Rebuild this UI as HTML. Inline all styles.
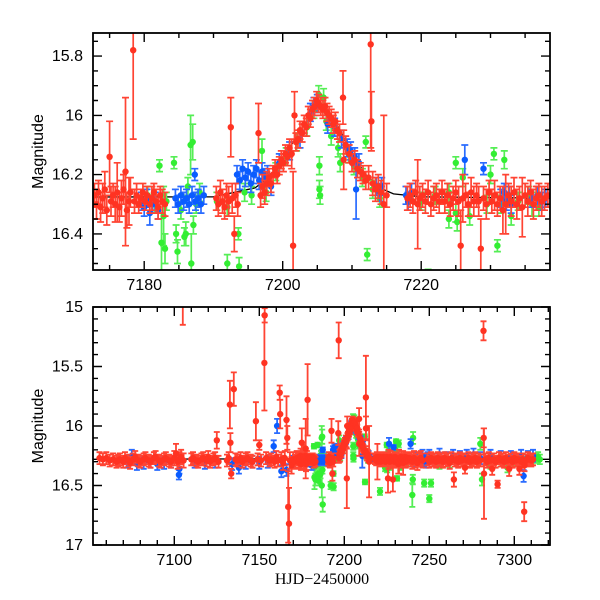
<!DOCTYPE html>
<html><head><meta charset="utf-8"><style>
html,body{margin:0;padding:0;background:#fff;}
svg{display:block;font-family:"Liberation Sans",sans-serif;}
</style></head><body>
<svg id="chart" width="600" height="600" viewBox="0 0 600 600"></svg>
<script>
// ---- data: [HJD-2450000, magnitude, error] ----
const redPoints = [
[7056,16.27,.05],[7058,16.28,.05],[7060,16.27,.05],[7062,16.29,.05],[7064,16.28,.05],[7066,16.30,.05],[7067,16.29,.05],[7068,16.28,.05],[7070,16.30,.05],[7071,16.27,.05],[7073,16.29,.05],[7074,16.31,.05],[7076,16.28,.05],[7077,16.26,.05],[7079,16.29,.05],[7080,16.30,.05],[7082,16.28,.05],[7083,16.27,.05],[7085,16.29,.05],[7086,16.30,.05],[7088,16.27,.05],[7089,16.26,.05],[7091,16.29,.05],[7092,16.30,.05],[7094,16.28,.05],[7095,16.27,.05],[7097,16.29,.05],[7098,16.30,.05],[7100,16.27,.06],[7101,16.23,.08],[7102,16.30,.06],[7103,16.28,.06],[7104,16.26,.06],[7105,14.95,.2],[7105.5,16.29,.06],
[7110,16.28,.05],[7111,16.27,.05],[7113,16.29,.05],[7114,16.30,.05],[7116,16.28,.05],[7117,16.27,.05],[7119,16.29,.05],[7120,16.26,.05],[7121,16.30,.05],[7123,16.28,.05],[7124,16.27,.05],[7125,16.12,.07],[7126,16.30,.05],
[7131,16.29,.05],[7132,16.27,.05],[7132.7,15.82,.2],[7133,16.14,.08],[7133.5,16.40,.04],[7135,15.69,.14],[7136,16.28,.05],[7137,16.29,.05],[7139,16.27,.05],[7140,16.30,.05],[7142,16.28,.05],[7143,16.27,.05],[7145,16.29,.05],[7146,16.30,.05],[7148,15.96,.16],[7149,16.28,.05],[7150,16.16,.04],[7151,16.29,.05],[7153,15.47,.4],[7153.2,15.07,.06],[7154,16.27,.05],[7156,16.29,.05],[7157,16.28,.05],[7159,16.30,.05],[7160,16.26,.05],[7161,16.29,.05],[7162,15.72,.06],[7162.3,15.9,.12],[7163,16.28,.06],[7164,16.31,.06],[7165,16.27,.06],[7166,15.95,.2],[7166.5,16.1,.1],[7167,16.68,.3],[7167.5,16.82,.3],[7168,16.29,.07],[7169,16.33,.07],[7170,16.28,.06],[7171,16.30,.06],[7172,16.27,.06],
[7172.8,16.27,.04],[7173.1,16.30,.05],[7173.4,16.26,.04],[7173.7,16.31,.05],[7174.0,16.28,.05],[7174.3,16.25,.06],[7174.6,16.32,.05],[7175.0,16.14,.12],[7175.2,16.29,.05],[7175.5,16.27,.04],[7175.8,16.30,.06],[7176.1,16.26,.1],[7176.4,16.31,.05],[7176.7,16.28,.06],[7177.0,16.25,.05],[7177.3,16.19,.25],[7177.5,16.32,.06],[7177.8,16.29,.08],[7178.0,16.26,.05],[7178.4,15.78,.3],[7178.6,16.29,.04],[7178.9,16.27,.04],[7179.2,16.30,.03],[7179.5,16.28,.03],[7179.8,16.26,.03],[7180.1,16.29,.03],[7180.4,16.27,.03],[7180.8,16.30,.03],[7181.1,16.28,.04],[7181.4,16.26,.03],[7181.7,16.29,.04],[7182.0,16.31,.04],[7182.3,16.27,.03],[7182.6,16.29,.04],[7183.0,16.30,.04],
[7190.4,16.28,.04],[7190.7,16.30,.04],[7191.0,16.26,.04],[7191.3,16.29,.04],[7191.6,16.31,.04],[7191.9,16.27,.04],[7192.2,16.29,.05],[7192.5,16.04,.1],[7192.7,16.28,.05],[7193.0,16.40,.06],[7193.2,16.27,.04],[7193.5,16.30,.04],
[7196.5,16.06,.1],[7196.7,15.28,.15],[7196.8,16.27,.04],[7197.1,16.24,.04],[7197.4,16.26,.04],[7197.7,16.23,.04],[7198.0,16.21,.03],[7198.3,16.23,.03],[7198.6,16.20,.03],[7198.9,16.18,.03],[7199.2,16.20,.03],[7199.5,16.17,.03],[7199.8,16.15,.03],[7200.1,16.16,.03],[7200.4,16.13,.03],[7200.7,16.14,.03],[7201.0,16.11,.03],[7201.3,16.13,.05],[7201.5,16.44,.25],[7201.7,16.00,.08],[7201.9,16.09,.03],[7202.2,16.08,.03],[7202.5,16.05,.03],[7202.8,16.06,.03],[7203.1,16.03,.03],[7203.4,16.04,.03],[7203.7,16.00,.03],[7204.0,16.01,.03],[7204.3,15.98,.03],[7204.6,15.97,.03],[7204.9,15.95,.03],[7205.2,15.96,.03],[7205.5,15.97,.03],[7205.8,15.98,.03],[7206.1,15.97,.03],[7206.4,15.99,.03],[7206.7,16.00,.03],[7207.0,16.01,.03],[7207.3,16.03,.03],[7207.6,16.02,.03],[7207.9,16.05,.03],[7208.2,16.06,.03],[7208.7,15.94,.09],[7208.8,16.15,.1],[7209.1,16.10,.03],[7209.6,16.13,.03],[7210.0,16.16,.03],[7210.4,16.15,.03],[7210.8,16.18,.03],[7211.2,16.19,.03],[7211.6,16.20,.03],[7212.0,16.22,.03],[7212.4,16.21,.04],[7212.7,15.76,.35],[7212.8,16.02,.1],[7213.0,16.23,.04],[7213.4,16.25,.04],[7213.8,16.24,.04],[7214.2,16.26,.04],[7214.6,16.30,.3],[7215.0,16.27,.04],
[7218.0,16.28,.04],[7218.4,16.27,.04],[7218.8,16.29,.04],[7219.2,16.26,.04],[7219.5,16.30,.15],[7219.8,16.28,.04],[7220.2,16.27,.04],[7220.6,16.29,.04],[7221.0,16.26,.04],[7221.4,16.30,.04],[7221.8,16.28,.04],[7222.2,16.27,.04],[7222.6,16.29,.04],[7223.0,16.26,.04],[7223.4,16.29,.04],[7223.8,16.27,.04],[7224.2,16.30,.04],[7224.6,16.28,.04],[7225.0,16.26,.04],[7225.4,16.29,.05],[7225.7,16.44,.12],[7226.0,16.28,.08],[7226.4,16.27,.04],[7226.8,16.30,.04],[7227.2,16.26,.05],[7227.6,16.29,.05],[7228.0,16.27,.04],[7228.3,16.29,.05],[7228.6,16.45,.1],[7229.0,16.28,.04],[7229.4,16.30,.05],[7229.8,16.26,.04],[7230.2,16.29,.04],[7230.6,16.27,.05],[7231.0,16.30,.04],[7231.4,16.28,.04],[7231.8,16.32,.08],[7232.2,16.30,.1],[7232.6,16.27,.04],[7233.0,16.29,.05],[7233.4,16.26,.05],[7233.8,16.30,.05],[7234.2,16.28,.04],[7234.6,16.31,.1],[7235.0,16.27,.04],[7235.4,16.29,.05],[7235.8,16.26,.04],[7236.2,16.30,.05],[7236.6,16.28,.04],[7237.0,16.27,.04],[7237.4,16.29,.05],[7237.8,16.28,.04],[7238.3,16.27,.04],
[7239,16.28,.06],[7240,16.30,.06],[7241,16.27,.06],[7242,16.29,.06],[7243,16.31,.06],[7244,16.28,.06],[7245,16.27,.06],[7246,16.29,.06],[7249,16.28,.05],[7250,16.30,.05],[7251,16.27,.05],[7252,16.29,.05],[7253,16.28,.05],[7254,16.30,.05],[7255,16.27,.05],[7256,16.29,.05],[7257,16.28,.05],[7258,16.30,.05],[7259,16.27,.05],[7260,16.29,.05],[7261,16.28,.05],[7262,16.31,.05],[7263,16.27,.05],[7264.5,16.45,.06],[7265,16.29,.05],[7266,16.28,.05],[7267,16.30,.05],[7268,16.27,.05],[7269,16.29,.05],[7270,16.28,.05],[7271,16.35,.05],[7272,16.29,.05],[7273,16.27,.05],[7274,16.30,.05],[7275,16.28,.05],[7276,16.29,.05],[7277,16.27,.05],[7278,16.30,.05],[7279,16.28,.05],[7280,16.29,.05],[7281.9,15.2,.08],[7282,16.1,.08],[7282.2,16.4,.38],[7283,16.28,.05],[7284,16.30,.05],[7285,16.27,.05],[7286,16.29,.05],[7287,16.36,.05],[7288,16.28,.05],[7289,16.30,.05],[7290.2,16.49,.03],[7291,16.27,.05],[7292,16.29,.05],[7293,16.28,.05],[7294,16.30,.05],[7295,16.27,.05],[7296,16.29,.05],[7297,16.36,.06],[7298,16.28,.05],[7299,16.30,.05],[7300,16.27,.05],[7301,16.29,.05],[7302,16.28,.05],[7303,16.36,.05],[7304,16.30,.05],[7305,16.28,.05],[7305.8,16.72,.08],[7306,16.33,.05],[7307,16.29,.05],[7308,16.27,.05],[7309,16.28,.05],[7310,16.29,.05],[7311,16.28,.05]
];
const bluePoints = [
[7072,16.30,.05],[7075,16.25,.05],[7078,16.32,.05],[7082,16.31,.05],[7086,16.30,.05],[7090,16.32,.05],[7094,16.31,.05],[7098,16.30,.05],[7102.7,16.41,.04],[7103,16.36,.04],[7112,16.30,.05],[7118,16.31,.05],[7124,16.30,.05],[7134,16.32,.05],[7138,16.35,.05],[7142,16.31,.05],[7146,16.30,.05],[7150,16.31,.05],[7155,16.30,.05],[7158.5,16.17,.05],[7160.5,16.00,.06],[7163,16.38,.05],[7166,16.37,.05],[7170,16.30,.05],
[7179.6,16.29,.03],[7180.0,16.31,.03],[7180.4,16.28,.03],[7180.8,16.33,.04],[7181.2,16.30,.03],[7181.6,16.29,.03],[7182.0,16.32,.03],[7184.5,16.28,.03],[7184.9,16.30,.03],[7185.3,16.27,.03],[7185.7,16.29,.03],[7186.1,16.28,.03],[7186.5,16.30,.03],[7186.9,16.27,.03],[7187.3,16.20,.02],[7187.4,16.29,.03],[7187.8,16.28,.03],[7188.2,16.30,.03],[7188.6,16.27,.03],[7193.4,16.20,.03],[7193.8,16.22,.03],[7194.2,16.18,.03],[7194.6,16.21,.03],[7195.0,16.19,.03],[7195.4,16.23,.03],[7195.8,16.20,.03],[7196.2,16.18,.03],[7196.6,16.22,.03],[7197.0,16.19,.03],[7197.4,16.21,.03],[7197.8,16.20,.03],[7198.3,16.24,.03],[7199.5,16.16,.03],[7201.0,16.12,.03],[7202.5,16.08,.03],[7204.0,15.99,.03],[7204.5,15.97,.03],[7205.0,15.96,.03],[7206.5,16.03,.03],[7207.5,16.04,.03],[7208.5,16.08,.03],[7209.3,16.11,.03],[7209.8,16.12,.03],[7210.4,16.14,.03],[7210.6,16.25,.1],[7211.0,16.16,.03],[7213.5,16.24,.03],[7214.0,16.26,.03],[7214.3,16.24,.03],[7217.8,16.27,.03],[7218.1,16.29,.03],[7218.6,16.26,.03],[7226.3,16.15,.05],[7229.0,16.18,.02],[7231.5,16.28,.03],[7232.0,16.26,.03],[7232.3,16.29,.03],[7232.7,16.27,.03],[7233.0,16.30,.03],[7236.0,16.28,.03],[7236.8,16.27,.03],[7237.5,16.29,.03],[7238.0,16.28,.03],
[7239,16.15,.04],[7240,16.29,.05],[7243,16.27,.05],[7246,16.25,.05],[7247,16.29,.05],[7248,16.30,.05],[7249,16.27,.05],[7250,16.25,.05],[7253,16.28,.05],[7256,16.24,.05],[7260,16.27,.05],[7264,16.25,.05],[7268,16.26,.05],[7272,16.25,.05],[7276,16.24,.05],[7280,16.27,.05],[7286,16.25,.05],[7292,16.26,.05],[7298,16.26,.05],[7304,16.25,.05],[7305.5,16.42,.05],[7308,16.26,.05],[7311,16.25,.05]
];
const greenPoints = [
[7180.5,16.27,.03],[7181.5,16.30,.03],[7182.2,16.17,.02],[7182.5,16.43,.1],[7182.8,16.34,.1],[7183.0,16.45,.05],[7183.2,16.29,.03],[7184.3,16.16,.02],[7184.6,16.40,.03],[7184.8,16.46,.04],[7185.3,16.32,.03],[7185.8,16.41,.03],[7186.3,16.24,.03],[7186.7,16.10,.1],[7186.8,16.50,.1],[7187.1,16.37,.03],[7187.5,16.30,.03],[7188.0,16.26,.03],[7190.5,16.29,.03],[7192.0,16.31,.03],[7193.6,16.40,.02],[7193.7,16.51,.03],[7194.5,16.26,.03],[7195.5,16.27,.03],[7197.0,16.12,.04],[7197.6,16.26,.03],[7199.0,16.19,.03],[7200.5,16.14,.03],[7202.0,16.09,.03],[7203.5,16.04,.03],[7204.5,15.98,.03],[7205.2,15.93,.03],[7205.9,15.94,.03],[7205.3,16.17,.03],[7205.3,16.25,.03],[7205.4,16.27,.03],[7206.3,16.02,.03],[7207.0,16.07,.03],[7208.0,16.11,.03],[7208.3,16.16,.03],[7209.5,16.13,.03],[7210.3,16.17,.03],[7211.5,16.21,.03],[7212.0,16.09,.02],[7212.2,16.47,.02],[7213.0,16.25,.03],[7214.0,16.28,.03],[7220.0,16.29,.03],[7222.0,16.27,.03],[7224.0,16.26,.03],[7225.0,16.16,.02],[7225.0,16.33,.03],[7225.2,16.36,.03],[7226.0,16.21,.03],[7227.0,16.34,.03],[7229.5,16.30,.03],[7230.5,16.13,.02],[7231.0,16.44,.02],[7231.5,16.30,.03],[7232.0,16.15,.03],[7233.0,16.34,.03],[7234.0,16.29,.03],[7235.5,16.27,.03],[7237.0,16.31,.03],
[7186,16.40,.04],[7187,16.09,.06],[7187.3,16.66,.06],[7192,16.50,.03],[7221,16.55,.03],[7224,16.35,.03],[7230,16.20,.03],[7236,16.30,.04],[7240,16.58,.1],[7240.3,16.45,.04],[7240.5,16.10,.05],[7247,16.48,.03],[7250,16.61,.03],[7251,16.48,.03],[7256,16.32,.04],[7262,16.31,.04],[7270,16.30,.04],[7280,16.15,.05],[7281,16.45,.05],[7286,16.32,.04],[7292,16.30,.04],[7296,16.35,.04],[7300,16.30,.04],[7306,16.30,.04],[7310,16.28,.04],[7313,16.27,.04],[7314,16.26,.04],[7315,16.28,.04]
];
const modelT   = [7050,7190,7196,7198,7200,7202,7204,7205.5,7207,7208.5,7210,7212,7214,7216,7220,7240,7325];
const modelMag = [16.28,16.275,16.245,16.21,16.15,16.07,16.0,15.975,16.0,16.06,16.13,16.2,16.245,16.265,16.275,16.28,16.28];
const topXTicks = [7180,7200,7220];
const topYTicks = [15.8,16,16.2,16.4];
const botXTicks = [7100,7150,7200,7250,7300];
const botYTicks = [15,15.5,16,16.5,17];

const NS = "http://www.w3.org/2000/svg";
const svg = document.getElementById('chart');
function mk(tag, attrs, parent) {
  const e = document.createElementNS(NS, tag);
  for (const k in attrs) e.setAttribute(k, attrs[k]);
  (parent || svg).appendChild(e);
  return e;
}
const panels = [
  {id:'top', x0:93, x1:550, y0:33, y1:270, tmin:7172.6, tmax:7238.6, mmin:15.722, mmax:16.522,
   xMinor:5, yMinor:0.05, xTicks:topXTicks, yTicks:topYTicks, r:3.2, cap:3.5, sw:1.7},
  {id:'bottom', x0:93, x1:550, y0:307, y1:545, tmin:7052.2, tmax:7321, mmin:15, mmax:17,
   xMinor:10, yMinor:0.1, xTicks:botXTicks, yTicks:botYTicks, r:3.2, cap:3, sw:1.8}
];
const colors = {green:['#33ee33','#55ee55'], blue:['#0a5cff','#2a6cff'], red:['#ff3322','#ff4433']};

panels.forEach(p => {
  const sx = t => p.x0 + (t - p.tmin) / (p.tmax - p.tmin) * (p.x1 - p.x0);
  const sy = m => p.y0 + (m - p.mmin) / (p.mmax - p.mmin) * (p.y1 - p.y0);
  const g = mk('g', {});
  
  
  const cid = 'clip-' + p.id;
  const cp = mk('clipPath', {id: cid}, g);
  mk('rect', {x:p.x0, y:p.y0, width:p.x1-p.x0, height:p.y1-p.y0}, cp);
  const plot = mk('g', {'clip-path':'url(#'+cid+')'}, g);
  
  

  let d = '';
  modelT.forEach((t,i) => { d += (i ? 'L' : 'M') + sx(t).toFixed(1) + ',' + sy(modelMag[i]).toFixed(1); });
  const ml = mk('path', {d:d, fill:'none', stroke:'#000', 'stroke-width':1.3}, plot);
  
  

  [['green',greenPoints],['blue',bluePoints],['red',redPoints]].forEach(([name, pts]) => {
    const sg = mk('g', {}, plot);
    
    
    let bars = '';
    pts.forEach(([t,m,e]) => {
      if (t < p.tmin - 1 || t > p.tmax + 1) return;
      const x = sx(t), ya = sy(m - e), yb = sy(m + e);
      bars += 'M'+x.toFixed(1)+','+ya.toFixed(1)+'V'+yb.toFixed(1);
      bars += 'M'+(x-p.cap).toFixed(1)+','+ya.toFixed(1)+'h'+(2*p.cap);
      bars += 'M'+(x-p.cap).toFixed(1)+','+yb.toFixed(1)+'h'+(2*p.cap);
    });
    const eb = mk('path', {d:bars, fill:'none', stroke:colors[name][1], 'stroke-width':p.sw}, sg);
    
    
    pts.forEach(([t,m,e]) => {
      if (t < p.tmin - 1 || t > p.tmax + 1) return;
      const c = mk('circle', {cx:sx(t).toFixed(1), cy:sy(m).toFixed(1), r:p.r, fill:colors[name][0]}, sg);
      
      
    });
  });

  const fr = mk('rect', {x:p.x0, y:p.y0, width:p.x1-p.x0, height:p.y1-p.y0, fill:'none', stroke:'#000', 'stroke-width':1.8}, g);
  
  

  let td = '';
  const tStart = Math.ceil(p.tmin / p.xMinor) * p.xMinor;
  for (let t = tStart; t <= p.tmax; t += p.xMinor) {
    const major = p.xTicks.some(v => Math.abs(v - t) < 1e-6);
    const L = major ? 9 : 5, x = sx(t).toFixed(1);
    td += 'M'+x+','+p.y1+'v'+(-L)+'M'+x+','+p.y0+'v'+L;
  }
  const nY = Math.round((p.mmax - p.mmin) / p.yMinor) + 2;
  const mStart = Math.ceil(p.mmin / p.yMinor - 1e-6) * p.yMinor;
  for (let i = 0; i < nY; i++) {
    const m = mStart + i * p.yMinor;
    if (m > p.mmax + 1e-6) break;
    const major = p.yTicks.some(v => Math.abs(v - m) < 1e-6);
    const L = major ? 9 : 5, y = sy(m).toFixed(1);
    td += 'M'+p.x0+','+y+'h'+L+'M'+p.x1+','+y+'h'+(-L);
  }
  const tk = mk('path', {d:td, stroke:'#000', 'stroke-width':1.4, fill:'none'}, g);
  
  

  p.xTicks.forEach(v => {
    const tx = mk('text', {x:sx(v).toFixed(1), y:p.y1+20, 'text-anchor':'middle', 'font-size':16, fill:'#000'}, g);
    tx.textContent = String(v);
    
    
  });
  p.yTicks.forEach(v => {
    const tx = mk('text', {x:p.x0-10, y:(sy(v)+5).toFixed(1), 'text-anchor':'end', 'font-size':16, fill:'#000'}, g);
    tx.textContent = String(v);
    
    
  });
  const yt = mk('text', {x:0, y:0, transform:'translate(43,'+((p.y0+p.y1)/2)+') rotate(-90)', 'text-anchor':'middle', 'font-size':16, fill:'#000'}, g);
  yt.textContent = 'Magnitude';
  
  
});
const xt = mk('text', {x:322, y:584, 'text-anchor':'middle', 'font-size':16, 'font-family':'"Liberation Serif",serif', fill:'#000'});
xt.textContent = 'HJD\u22122450000';


</script>
</body></html>
